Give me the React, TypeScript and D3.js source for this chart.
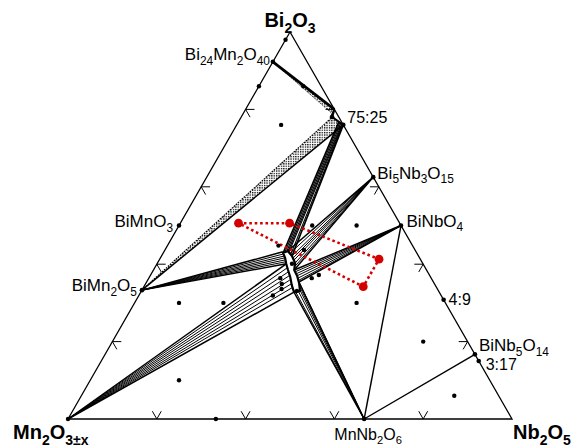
import React from 'react'
import * as d3 from 'd3'

// all compositions are mol% [Bi2O3, Nb2O5]; Mn2O3 is the rest
const CORNERS = [
  { name: 'Bi2O3', comp: [100, 0], dx: 0, dy: -5, anchor: 'middle' },
  { name: 'Mn2O3±x', comp: [0, 0], dx: -55, dy: 20, anchor: 'start' },
  { name: 'Nb2O5', comp: [0, 100], dx: 1, dy: 20, anchor: 'start' },
]

const PHASES = [
  { name: 'Bi24Mn2O40', comp: [92.3, 0], dx: -3, dy: -2, anchor: 'end' },
  { name: 'BiMnO3', comp: [50, 0], dx: -6, dy: 1.5, anchor: 'end' },
  { name: 'BiMn2O5', comp: [33.3, 0], dx: -5, dy: 1, anchor: 'end' },
  { name: '75:25', comp: [76, 24], dx: 4, dy: -2, anchor: 'start', plain: true },
  { name: 'Bi5Nb3O15', comp: [62.5, 37.5], dx: 4, dy: 1.5, anchor: 'start' },
  { name: 'BiNbO4', comp: [50, 50], dx: 5.5, dy: 1, anchor: 'start' },
  { name: '4:9', comp: [30.8, 69.2], dx: 5, dy: 5, anchor: 'start', plain: true },
  { name: 'BiNb5O14', comp: [16.7, 83.3], dx: 4, dy: -3, anchor: 'start' },
  { name: '3:17', comp: [15, 85], dx: 7, dy: 9, anchor: 'start', plain: true },
  { name: 'MnNb2O6', comp: [0, 66.7], dx: 4, dy: 21, anchor: 'middle' },
]

// sample compositions (small black dots)
const SAMPLES = [
  [0, 0], [98, 0], [86, 0], [0, 33.3], [86, 10], [78, 20.5], [76, 10],
  [50, 30], [50, 40], [30, 50], [30, 10], [30, 20], [10, 20], [20, 70], [6, 84],
  [44.8, 25], [43.7, 31.3], [36.4, 29.6], [34.9, 30.7], [33.6, 31.3], [31.9, 30.2],
  [33.1, 35], [36.4, 36.7], [37.2, 37.9], [40.1, 30.4],
]

const RED_PTS = [[50.6, 13.1], [50.6, 24.6], [41.3, 49.4], [34.2, 49.4]]

// pyrochlore single-phase field outline
const REGION = [
  [43.4, 27.8], [42.9, 27.0], [41.6, 28.1], [40.1, 29.1], [38.5, 30.3], [36.7, 31.7],
  [34.6, 33.1], [32.8, 34.5], [33.1, 35.7], [35.1, 34.5], [37.0, 33.1],
  [38.5, 31.7], [40.3, 31.0], [42.1, 29.4],
]

const BI_RICH_A = [78, 20.5]
const BI_RICH_B = [76, 24]
const EDGE_8020 = [80, 20]
const UPPER_BAND_END = [78.6, 20.5]

const FAN_7525_FROM = [[76.9, 22.6], [76.7, 22.9], [76.5, 23.2], [76.4, 23.5], [76.2, 23.7], [76.1, 23.85], [76, 24]]
const FAN_7525_TO = [[42.9, 27.0], [43.2, 27.3], [43.4, 27.6], [43.3, 27.9], [43.2, 28.2], [42.6, 28.9], [42.1, 29.4]]
const FAN_BIMN2O5_TO = [[43.2, 26.8], [42.6, 27.1], [42.1, 27.6], [41.6, 27.9], [41.1, 28.3], [40.6, 28.6], [40.1, 29.1]]
const FAN_MN2O3_TO = [[40.1, 29.1], [39.0, 29.8], [38.0, 30.6], [37.0, 31.3], [35.9, 32.0], [34.9, 32.8], [33.9, 33.5], [32.8, 34.5]]
const FAN_MNNB2O6_TO = [[32.8, 34.5], [32.8, 34.9], [33.1, 35.3], [33.3, 35.6], [34.1, 35.2], [34.9, 34.8], [35.4, 34.3]]
const FAN_BINBO4_TO = [[35.4, 34.3], [35.9, 34.1], [36.4, 33.6], [37.0, 33.1], [37.5, 32.6], [38.0, 32.1], [38.5, 31.7]]
const FAN_BI5NB3O15_TO = [[43.4, 27.8], [42.9, 28.6], [42.1, 29.4], [41.6, 29.9], [41.1, 30.4], [40.3, 31.0], [39.5, 31.4], [38.5, 31.7]]

const SINGLE_TIES = [
  [[0, 66.7], [50, 50]],
  [[0, 66.7], [16.7, 83.3]],
]

const TICKS = [20, 40, 60, 80]

const FONT = '"Liberation Sans", Arial, Helvetica, sans-serif'
const RED = '#d40000'

const xS = d3.scaleLinear().domain([0, 100]).range([68, 512])
const yS = d3.scaleLinear().domain([0, 100]).range([419, 32])
const P = (c: number[]) => [xS(c[1] + c[0] / 2), yS(c[0])]

const path = d3.line<number[]>().x(d => P(d)[0]).y(d => P(d)[1])

function Formula({ text, x, y, size, anchor, bold, plain }: any) {
  const parts = plain ? [text] : text.split(/(\d+(?:±x)?)/)
  const shift = size * 0.28
  let low = false
  const spans: any[] = []
  parts.forEach((p: string, i: number) => {
    if (!p) return
    const sub = !plain && i % 2 === 1
    let dy = 0
    if (sub && !low) { dy = shift; low = true }
    else if (!sub && low) { dy = -shift; low = false }
    spans.push(
      <tspan key={i} dy={dy || undefined} fontSize={sub ? size * 0.7 : undefined}>{p}</tspan>
    )
  })
  return (
    <text x={x} y={y} fontSize={size} textAnchor={anchor} fontWeight={bold ? 'bold' : 'normal'}
      fontFamily={FONT} fill="#000">{spans}</text>
  )
}

function Fan({ from, to, w = 1 }: any) {
  return (
    <g stroke="#000" fill="none">
      {to.map((t: number[], i: number) => {
        const f = Array.isArray(from[0]) ? from[i] : from
        const edge = i === 0 || i === to.length - 1
        return <path key={i} d={path([f, t]) || ''} strokeWidth={edge ? w * 1.5 : w} />
      })}
    </g>
  )
}

export default function App() {
  const W = 574, H = 447
  const corners = CORNERS.map(c => c.comp)
  const bi24 = PHASES[0].comp
  const bimn2o5 = PHASES[2].comp

  const ticks: number[][][] = []
  const L = 2
  TICKS.forEach(t => {
    ticks.push([[L, t], [0, t], [L, t - L]])            // bottom edge
    ticks.push([[t, L], [t, 0], [t - L, L]])            // left edge
    ticks.push([[100 - t, t - L], [100 - t, t], [100 - t - L, t]]) // right edge
  })

  return (
    <svg width={W} height={H} style={{ position: 'absolute', left: 0, top: 0, background: '#fff' }}>
      <defs>
        <pattern id="stip" width="2.4" height="2.4" patternUnits="userSpaceOnUse">
          <rect width="1.3" height="1.3" fill="#000" />
        </pattern>
      </defs>
      <rect width={W} height={H} fill="#fff" />

      {/* stippled two-phase bands */}
      <path d={path([bi24, EDGE_8020, UPPER_BAND_END]) + 'Z'} fill="url(#stip)" />
      <path d={path([bimn2o5, BI_RICH_A, BI_RICH_B]) + 'Z'} fill="url(#stip)" />
      <path d={path([bi24, UPPER_BAND_END]) || ''} stroke="#000" strokeWidth={0.8} strokeDasharray="1.5 1.2" fill="none" />
      <path d={path([bimn2o5, BI_RICH_A]) || ''} stroke="#000" strokeWidth={1.2} strokeDasharray="1.5 1.2" fill="none" />
      <path d={path([bimn2o5, BI_RICH_B]) || ''} stroke="#000" strokeWidth={1.5} fill="none" />
      <path d={path([bi24, EDGE_8020]) || ''} stroke="#000" strokeWidth={2.8} fill="none" />
      <path d={path([EDGE_8020, BI_RICH_A, BI_RICH_B]) || ''} stroke="#000" strokeWidth={2} fill="none" />

      {/* tie-line fans */}
      <Fan from={FAN_7525_FROM} to={FAN_7525_TO} w={1.1} />
      <Fan from={bimn2o5} to={FAN_BIMN2O5_TO} />
      <Fan from={[0, 0]} to={FAN_MN2O3_TO} />
      <Fan from={[0, 66.7]} to={FAN_MNNB2O6_TO} />
      <Fan from={[50, 50]} to={FAN_BINBO4_TO} />
      <Fan from={[62.5, 37.5]} to={FAN_BI5NB3O15_TO} />
      {SINGLE_TIES.map((s, i) => (
        <path key={i} d={path(s) || ''} stroke="#000" strokeWidth={1.4} fill="none" />
      ))}

      {/* pyrochlore field */}
      <path d={path(REGION) + 'Z'} fill="#fff" stroke="#000" strokeWidth={2.2} strokeLinejoin="round" />

      {/* triangle frame */}
      <path d={path(corners) + 'Z'} fill="none" stroke="#000" strokeWidth={1.3} />
      {ticks.map((t, i) => (
        <path key={i} d={path(t) || ''} fill="none" stroke="#000" strokeWidth={1} />
      ))}

      {/* red dotted area */}
      <path d={path(RED_PTS) + 'Z'} fill="none" stroke={RED} strokeWidth={2.6} strokeDasharray="2.6 2.8" />

      {SAMPLES.map((s, i) => {
        const [x, y] = P(s)
        return <circle key={i} cx={x} cy={y} r={2.2} fill="#000" />
      })}
      {PHASES.map((p, i) => {
        const [x, y] = P(p.comp)
        return <circle key={i} cx={x} cy={y} r={2.3} fill="#000" />
      })}
      {RED_PTS.map((s, i) => {
        const [x, y] = P(s)
        return <circle key={i} cx={x} cy={y} r={4.4} fill={RED} />
      })}

      {PHASES.map((p, i) => {
        const [x, y] = P(p.comp)
        const size = p.plain ? 16 : p.name === 'MnNb2O6' ? 16 : 17
        return <Formula key={i} text={p.name} x={x + p.dx} y={y + p.dy} size={size}
          anchor={p.anchor} plain={p.plain} />
      })}
      {CORNERS.map((c, i) => {
        const [x, y] = P(c.comp)
        return <Formula key={i} text={c.name} x={x + c.dx} y={y + c.dy} size={20}
          anchor={c.anchor} bold />
      })}
    </svg>
  )
}
